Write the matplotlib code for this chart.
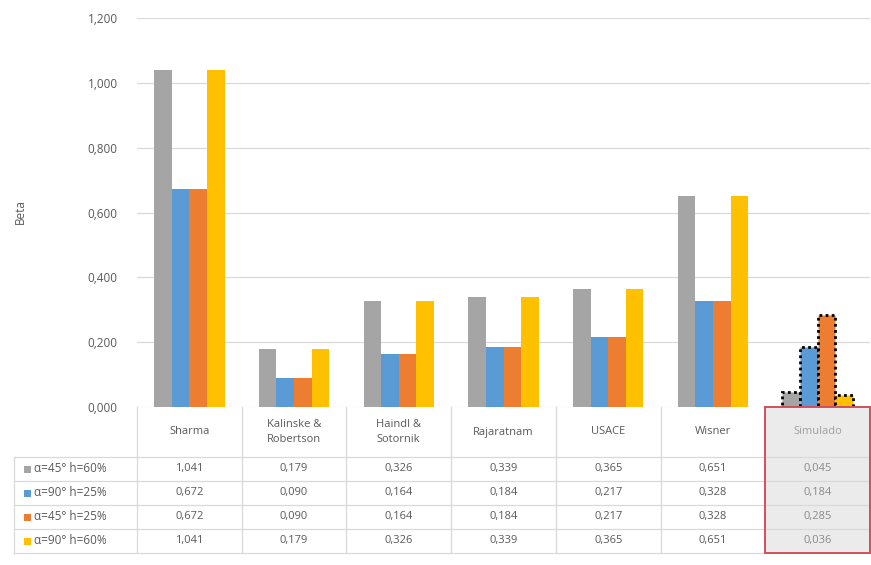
import matplotlib
matplotlib.use("Agg")
import matplotlib.pyplot as plt
import matplotlib.transforms as mtransforms
from matplotlib.patches import Rectangle
import numpy as np

# methods along the x axis
methods = ["Sharma", "Kalinske &\nRobertson", "Haindl &\nSotornik", "Rajaratnam",
           "USACE", "Wisner", "Simulado"]

# one list per test configuration (beta values)
series_names = ["α=45° h=60%", "α=90° h=25%", "α=45° h=25%", "α=90° h=60%"]
beta_45_60 = [1.041, 0.179, 0.326, 0.339, 0.365, 0.651, 0.045]
beta_90_25 = [0.672, 0.090, 0.164, 0.184, 0.217, 0.328, 0.184]
beta_45_25 = [0.672, 0.090, 0.164, 0.184, 0.217, 0.328, 0.285]
beta_90_60 = [1.041, 0.179, 0.326, 0.339, 0.365, 0.651, 0.036]
series = [beta_45_60, beta_90_25, beta_45_25, beta_90_60]
colors = ["#A5A5A5", "#5B9BD5", "#ED7D31", "#FFC000"]

y_ticks = [0.0, 0.2, 0.4, 0.6, 0.8, 1.0, 1.2]

W, H = 871, 565
txt = "#595959"
grid = "#D9D9D9"
plt.rcParams["font.family"] = ["Open Sans", "DejaVu Sans"]

fig = plt.figure(figsize=(W / 100, H / 100), dpi=100)
fig.patch.set_facecolor("white")

# bar area, in pixels: x 137..870, y 18..407
ax = fig.add_axes([137 / W, 1 - 407 / H, (870 - 137) / W, (407 - 18) / H])
n = len(methods)
x = np.arange(n)
bw = 0.168
for i, (vals, c) in enumerate(zip(series, colors)):
    offs = (i - 1.5) * bw
    bars = ax.bar(x + offs, vals, width=bw, color=c, zorder=3)
    # the simulated result is outlined with a dotted border
    sim = bars[-1]
    sim.set_edgecolor("black")
    sim.set_linestyle((0, (1, 1.2)))
    sim.set_linewidth(2.0)

ax.set_xlim(-0.5, n - 0.5)
ax.set_ylim(0, 1.2)
ax.set_yticks(y_ticks)
ax.set_yticklabels([f"{v:.3f}".replace(".", ",") for v in y_ticks])
ax.tick_params(axis="y", length=0, pad=14, labelsize=8.5, labelcolor=txt)
ax.set_xticks([])
ax.yaxis.grid(True, color=grid, linewidth=0.9, zorder=0)
for s in ax.spines.values():
    s.set_visible(False)
ax.text(20 / W, 1 - 212 / H, "Beta", transform=fig.transFigure, rotation=90,
        ha="center", va="center", fontsize=8.5, color=txt)

# data table under the bars, x follows the bar axis, y in pixels
tab = fig.add_axes([0, 0, 1, 1])
tab.set_xlim(0, W)
tab.set_ylim(H, 0)
tab.axis("off")
tr = mtransforms.blended_transform_factory(ax.transData, tab.transData)

row_edges = [407, 457, 481, 505, 529, 553]
left_px = 14

# highlighted column for the simulation
tab.add_patch(Rectangle((n - 1.5, 407), 1, 553 - 407, transform=tr,
                        facecolor="#EBEBEB", edgecolor="none", zorder=1))

for k in range(n + 1):
    tab.plot([k - 0.5, k - 0.5], [407, 553], transform=tr, color=grid, lw=0.9, zorder=2)
tab.plot([left_px, left_px], [457, 553], color=grid, lw=0.9, zorder=2)
for ye in row_edges[1:]:
    tab.plot([left_px, 870], [ye, ye], color=grid, lw=0.9, zorder=2)

tab.add_patch(Rectangle((n - 1.5, 407), 1, 553 - 407, transform=tr,
                        facecolor="none", edgecolor="#D0505C", lw=1.4, zorder=4))

for k, m in enumerate(methods):
    col = "#A0A0A0" if k == n - 1 else txt
    tab.text(k, 432, m, transform=tr, ha="center", va="center", fontsize=8,
             color=col, linespacing=1.4, zorder=5)

for r, (name, vals, c) in enumerate(zip(series_names, series, colors)):
    yc = (row_edges[r + 1] + row_edges[r + 2]) / 2
    tab.add_patch(Rectangle((24, yc - 3.5), 7, 7, facecolor=c, edgecolor="none", zorder=5))
    tab.text(34, yc, name, ha="left", va="center", fontsize=8.5, color=txt, zorder=5)
    for k, v in enumerate(vals):
        col = "#8A8A8A" if k == n - 1 else txt
        tab.text(k, yc, f"{v:.3f}".replace(".", ","), transform=tr, ha="center",
                 va="center", fontsize=8, color=col, zorder=5)

fig.savefig("out.png", dpi=100, facecolor="white")
